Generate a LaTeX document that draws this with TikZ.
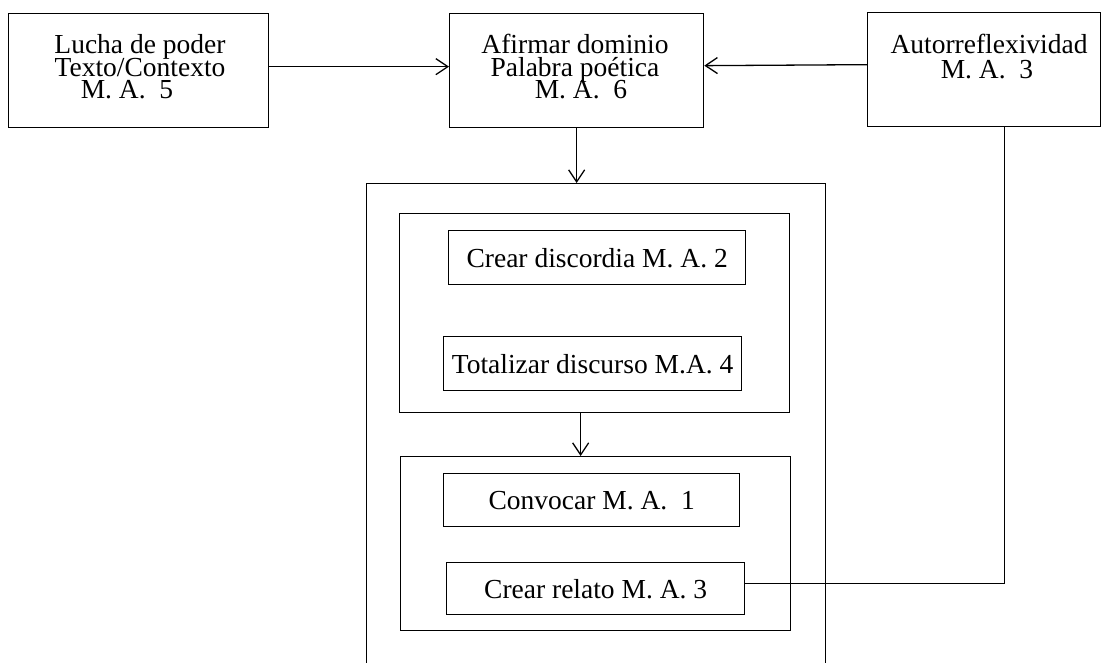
\documentclass[tikz,border=0pt]{standalone}
\usepackage{fontspec}
\setmainfont{Liberation Serif}
\usetikzlibrary{arrows.meta}
\begin{document}
\begin{tikzpicture}[x=1pt,y=-1pt,
  bx/.style={draw, line width=1.3pt, rectangle, inner sep=0pt, anchor=north west, font=\fontsize{27.5}{23}\selectfont},
  lbl/.style={anchor=base, inner sep=0pt, font=\fontsize{27.5}{23}\selectfont},
  arr/.style={line width=1.3pt, -{Straight Barb[length=12pt,width=16pt,line width=1.3pt]}},
  conn/.style={line width=1.3pt}]
\useasboundingbox (0,0) rectangle (1103,662);
\clip (0,0) rectangle (1103,662);
% top boxes
\node[bx, minimum width=260pt, minimum height=114pt] (box1) at (8,13) {};
\node[bx, minimum width=254pt, minimum height=114pt] (box2) at (449,13) {};
\node[bx, minimum width=233pt, minimum height=114pt] (box3) at (867,12) {};
% labels of top boxes
\node[lbl] (t1a) at (140,53) {Lucha de poder};
\node[lbl] (t1b) at (140,76.5) {Texto/Contexto};
\node[lbl] (t1c) at (127,98) {M. A.\ \ 5};
\node[lbl] (t2a) at (575,53) {Afirmar dominio};
\node[lbl] (t2b) at (575,76.5) {Palabra poética};
\node[lbl] (t2c) at (581,98) {M. A.\ \ 6};
\node[lbl] (t3a) at (989,53) {Autorreflexividad};
\node[lbl] (t3b) at (987,78) {M. A.\ \ 3};
% container boxes
\node[bx, minimum width=459pt, minimum height=600pt] (outer) at (366,183) {};
\node[bx, minimum width=390pt, minimum height=199pt] (inner1) at (399,213) {};
\node[bx, minimum width=297pt, minimum height=54pt] (disc) at (448,230) {Crear discordia M. A. 2};
\node[bx, minimum width=298pt, minimum height=54pt] (tot) at (443,336) {Totalizar discurso M.A. 4};
\node[bx, minimum width=390pt, minimum height=174pt] (inner2) at (400,456) {};
\node[bx, minimum width=296pt, minimum height=53pt] (conv) at (443,473) {Convocar M. A.\ \ 1\hspace{18pt}};
\node[bx, minimum width=298pt, minimum height=52pt] (rel) at (446,562) {Crear relato M. A. 3\hspace{18pt}};
% connectors
\draw[arr] ([yshift=4pt]box1.east) -- ([yshift=4pt]box2.west);
\draw[arr] ([yshift=5pt]box3.west) -- ([yshift=5pt]box2.east);
\draw[arr] (box2.south) -- (box2.south |- outer.north);
\draw[arr] ([xshift=-14pt]inner1.south) -- ([xshift=-14pt]inner1.south |- inner2.north);
\draw[conn] ([yshift=5pt]rel.east) -| ([xshift=20.5pt]box3.south);
\end{tikzpicture}
\end{document}
